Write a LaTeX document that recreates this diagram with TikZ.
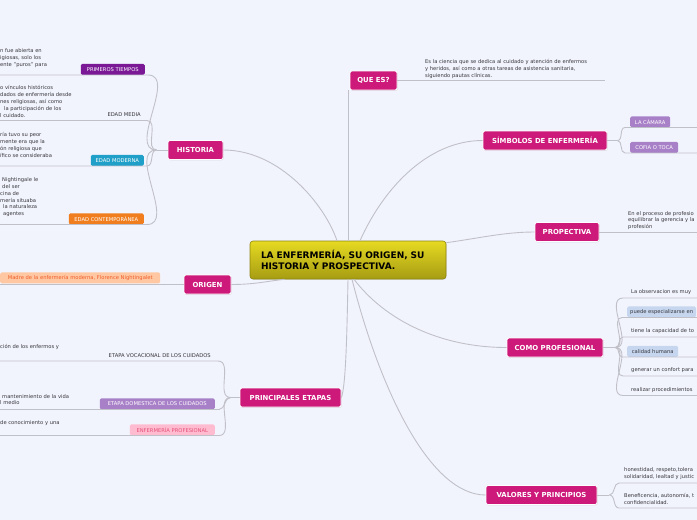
\documentclass[tikz,border=0pt]{standalone}
\usepackage{fontspec}
\setmainfont{DejaVu Sans}
\usepackage{tikz}
\usetikzlibrary{shadows}

\definecolor{bgpaper}{RGB}{242,244,253}
\definecolor{mainpink}{RGB}{205,25,122}
\definecolor{linegray}{RGB}{192,192,200}
\definecolor{txtgray}{RGB}{55,55,60}
\definecolor{rootyel}{RGB}{230,218,34}
\definecolor{rootdark}{RGB}{166,156,18}
\definecolor{deeppurple}{RGB}{122,24,150}
\definecolor{tealblue}{RGB}{32,160,200}
\definecolor{brightorange}{RGB}{240,125,30}
\definecolor{softpurple}{RGB}{168,128,200}
\definecolor{softblue}{RGB}{198,214,238}
\definecolor{softpink}{RGB}{255,188,208}
\definecolor{pinktxt}{RGB}{228,80,122}
\definecolor{softorange}{RGB}{255,200,162}
\definecolor{orangetxt}{RGB}{238,92,42}

\newcommand\smalltxt{\fontsize{5.2}{6.8}\selectfont}

\begin{document}
\begin{tikzpicture}[x=1pt, y=-1pt,
    conn/.style={draw=linegray, line width=0.9pt},
    rootbox/.style={rounded corners=3pt, top color=rootyel, bottom color=rootdark,
      draw=rootdark!85!black, line width=0.6pt, align=left, text width=174pt,
      minimum width=196pt, minimum height=38pt, inner xsep=11pt,
      font=\fontsize{9}{11}\selectfont\bfseries,
      drop shadow={opacity=0.2, shadow xshift=0.6pt, shadow yshift=-0.8pt}},
    topic/.style={fill=mainpink, draw=white, line width=0.8pt, rounded corners=2pt,
      text=white, font=\fontsize{6.9}{8}\selectfont\bfseries, minimum height=19pt,
      drop shadow={opacity=0.2, shadow xshift=0.6pt, shadow yshift=-0.8pt}},
    tag/.style={rounded corners=1.5pt, font=\smalltxt, inner xsep=3pt, inner ysep=0pt,
      minimum height=11pt},
    note/.style={font=\smalltxt, text=txtgray, align=left, inner sep=0pt, anchor=north west}]

  % paper
  \fill[bgpaper] (0,0) rectangle (697,520);
  \useasboundingbox (0,0) rectangle (697,520);
  \clip (0,0) rectangle (697,520);
  \coordinate (lEdge) at (0,0);
  \coordinate (rEdge) at (700,0);

  % central topic and main branches
  \node[rootbox] (root) at (348,260) {LA ENFERMERÍA, SU ORIGEN, SU\\HISTORIA Y PROSPECTIVA.};
  \node[topic, minimum width=47pt] (quees) at (373.5,80.5) {QUE ES?};
  \node[topic, minimum width=55pt] (hist) at (195.5,150) {HISTORIA};
  \node[topic, minimum width=124pt] (simb) at (545,140.5) {SÍMBOLOS DE ENFERMERÍA};
  \node[topic, minimum width=64pt] (prop) at (567,232) {PROPECTIVA};
  \node[topic, minimum width=47pt] (orig) at (207.5,284.5) {ORIGEN};
  \node[topic, minimum width=96pt] (prof) at (555,347.5) {COMO PROFESIONAL};
  \node[topic, minimum width=101pt] (etap) at (290.5,397.5) {PRINCIPALES ETAPAS};
  \node[topic, minimum width=111pt] (valo) at (541.5,495) {VALORES Y PRINCIPIOS};

  \draw[conn] (root.north) -- (root.north |- quees.south);
  \draw[conn] ([xshift=-11pt]root.north) .. controls (325,205) and (280,150) .. (hist.east);
  \draw[conn] ([xshift=12pt]root.north) .. controls (385,185) and (430,140.5) .. (simb.west);
  \draw[conn] ([yshift=-2pt]root.north east) .. controls (480,238) and (505,232) .. (prop.west);
  \draw[conn] (orig.east) .. controls (255,284.5) and (268,281) .. ([xshift=35pt]root.south west);
  \draw[conn] (root.south) .. controls (347,330) and (346,385) .. (etap.east);
  \draw[conn] ([xshift=6pt]root.south) .. controls (385,320) and (440,347.5) .. (prof.west);
  \draw[conn] ([xshift=4pt]root.south) .. controls (380,390) and (430,495) .. (valo.west);

  % historia
  \node[tag, fill=deeppurple, text=white, minimum width=64pt, anchor=south east] (ptTag) at (145,75) {PRIMEROS TIEMPOS};
  \node[note] (ptNote) at (0,48.5) {n fue abierta en\\igiosas, solo los\\ente "puros" para};
  \node[tag, text=txtgray, anchor=south east] (emTag) at (144,120.5) {EDAD MEDIA};
  \node[note] (emNote) at (0,85.5) {o vínculos históricos\\dados de enfermería desde\\nes religiosas, así como\\\hspace*{4pt}la participación de los\\l cuidado.};
  \node[tag, fill=tealblue, text=white, minimum width=53pt, anchor=south east] (emoTag) at (144,166) {EDAD MODERNA};
  \node[note] (emoNote) at (0,132.5) {ría tuvo su peor\\mente era que la\\ón religiosa que\\ífico se consideraba};
  \node[tag, fill=brightorange, text=white, minimum width=75pt, anchor=south east] (ecTag) at (144,224.5) {EDAD CONTEMPORÁNEA};
  \node[note] (ecNote) at (0,177.5) {\hspace*{2pt}Nightingale le\\\hspace*{2pt}del ser\\cina de\\mería situaba\\\hspace*{3pt}la naturaleza\\\hspace*{3pt}agentes};
  \coordinate (jHist) at ([xshift=-11pt]hist.west);
  \draw[conn] (hist.west) -- (jHist);
  \foreach \t in {ptTag, emTag, emoTag, ecTag}
    \draw[conn] (jHist) to[out=180,in=0] ([xshift=3pt]\t.south east) -- (\t.south east -| lEdge);

  % origen
  \node[tag, fill=softorange, text=orangetxt, minimum width=160pt, anchor=south west] (ogTag) at (0,283.5) {Madre de la enfermería moderna, Florence Nightingalet};
  \draw[conn] (orig.west) -- (orig.west -| lEdge);

  % principales etapas
  \node[tag, text=txtgray, anchor=south east] (evTag) at (214,361) {ETAPA VOCACIONAL DE LOS CUIDADOS};
  \node[note] (evNote) at (0,344.5) {ción de los enfermos y};
  \node[tag, fill=softpurple, text=white, minimum width=115pt, anchor=south east] (edTag) at (215,409.5) {ETAPA DOMESTICA DE LOS CUIDADOS};
  \node[note] (edNote) at (0,394) {\hspace*{2pt}mantenimiento de la vida\\l medio};
  \node[tag, fill=softpink, text=pinktxt, minimum width=85pt, anchor=south east] (epTag) at (215,435.5) {ENFERMERÍA PROFESIONAL};
  \node[note] (epNote) at (0,420.5) {de conocimiento y una};
  \coordinate (jEtap) at ([xshift=-9pt]etap.west);
  \draw[conn] (etap.west) -- (jEtap);
  \foreach \t in {evTag, edTag, epTag}
    \draw[conn] (jEtap) to[out=180,in=0] ([xshift=4pt]\t.south east) -- (\t.south east -| lEdge);

  % que es
  \node[note] (qNote) at (425,59.5) {Es la ciencia que se dedica al cuidado y atención de enfermos\\y heridos, así como a otras tareas de asistencia sanitaria,\\siguiendo pautas clínicas.};
  \coordinate (qEnd) at (605,81);
  \draw[conn] (quees.east) -- (quees.east -| qEnd);

  % simbolos
  \node[tag, fill=softpurple, text=white, minimum width=40pt, anchor=south west] (lcTag) at (630,127.5) {LA CÁMARA};
  \node[tag, fill=softpurple, text=white, minimum width=48pt, anchor=south west] (ctTag) at (630,153) {COFIA O TOCA};
  \coordinate (jSimb) at ([xshift=10pt]simb.east);
  \draw[conn] (simb.east) -- (jSimb);
  \foreach \t in {lcTag, ctTag}
    \draw[conn] (jSimb) to[out=0,in=180] ([xshift=-5pt]\t.south west) -- (\t.south west -| rEdge);

  % propectiva
  \node[note] (prNote) at (628,211) {En el proceso de profesio\\equilibrar la gerencia y la\\profesión};
  \draw[conn] (prop.east) -- (prop.east -| rEdge);

  % como profesional
  \node[tag, text=txtgray, anchor=south west] (pf1) at (628,298) {La observacion es muy};
  \node[tag, fill=softblue, text=txtgray, anchor=south west] (pf2) at (627,317.5) {puede especializarse en};
  \node[tag, text=txtgray, anchor=south west] (pf3) at (628,337) {tiene la capacidad de to};
  \node[tag, fill=softblue, text=txtgray, minimum width=51pt, anchor=south west] (pf4) at (627,357) {calidad humana};
  \node[tag, text=txtgray, anchor=south west] (pf5) at (628,376) {generar un confort para};
  \node[tag, text=txtgray, anchor=south west] (pf6) at (628,395.5) {realizar procedimientos};
  \coordinate (jProf) at ([xshift=12pt]prof.east);
  \draw[conn] (prof.east) -- (jProf);
  \foreach \t in {pf1, pf2, pf3, pf4, pf5, pf6}
    \draw[conn] (jProf) to[out=0,in=180] ([xshift=-5pt]\t.south west) -- (\t.south west -| rEdge);

  % valores y principios
  \node[note, anchor=south west, inner ysep=3pt] (va1) at (624,483) {honestidad, respeto,tolera\\solidaridad, lealtad y justic};
  \node[note, anchor=south west, inner ysep=3pt] (va2) at (624,508) {Beneficencia, autonomía, t\\confidencialidad.};
  \coordinate (jValo) at ([xshift=12pt]valo.east);
  \draw[conn] (valo.east) -- (jValo);
  \foreach \t in {va1, va2}
    \draw[conn] (jValo) to[out=0,in=180] ([xshift=-5pt]\t.south west) -- (\t.south west -| rEdge);
\end{tikzpicture}
\end{document}
